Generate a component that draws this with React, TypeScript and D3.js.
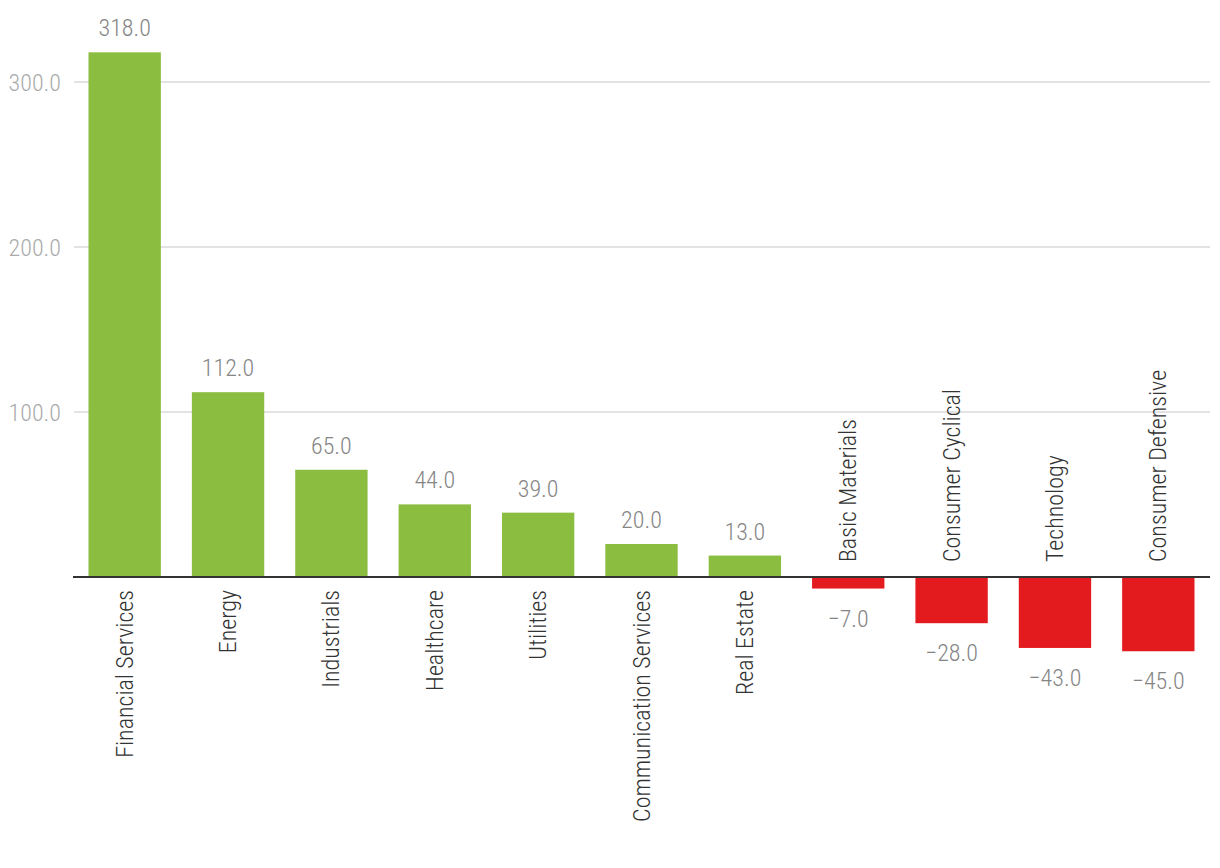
import React from "react";
import * as d3 from "d3";

const categories = [
  "Financial Services",
  "Energy",
  "Industrials",
  "Healthcare",
  "Utilities",
  "Communication Services",
  "Real Estate",
  "Basic Materials",
  "Consumer Cyclical",
  "Technology",
  "Consumer Defensive",
];
const values = [318, 112, 65, 44, 39, 20, 13, -7, -28, -43, -45];
const yTicks = [100, 200, 300];

const W = 1220;
const H = 868;
const FONT = "'Roboto Condensed', 'Liberation Sans Narrow', 'DejaVu Sans Condensed', 'Roboto', sans-serif";

export default function App() {
  const x = d3.scaleBand<string>().domain(categories).range([73, 1210]).paddingInner(0.3).paddingOuter(0.15);
  const y = d3.scaleLinear().domain([0, 300]).range([577, 82]);
  const fmt = d3.format(".1f");
  const minus = (v: number) => fmt(v).replace("-", "\u2212");

  return (
    <svg width={W} height={H} style={{ position: "absolute", left: 0, top: 0, background: "#fff" }} fontFamily={FONT}>
      {yTicks.map((t) => (
        <g key={t}>
          <line x1={74} x2={1210} y1={y(t)} y2={y(t)} stroke="#e3e3e3" strokeWidth={2} />
          <text x={61} y={y(t)} dy="0.36em" textAnchor="end" fontSize={24} fill="#aaaaaa" fontWeight={300}>
            {fmt(t)}
          </text>
        </g>
      ))}
      {categories.map((c, i) => {
        const v = values[i];
        const x0 = x(c)!;
        const bw = x.bandwidth();
        const top = Math.min(y(v), y(0));
        const h = Math.abs(y(v) - y(0));
        const cx = x0 + bw / 2;
        return (
          <g key={c}>
            <rect x={x0} y={top} width={bw} height={h} fill={v >= 0 ? "#8bbd40" : "#e31b1f"} />
            <text
              x={cx}
              y={v >= 0 ? y(v) - 16 : y(v) + 38}
              textAnchor="middle"
              fontSize={24}
              fill="#858585"
              fontWeight={300}
            >
              {minus(v)}
            </text>
            <text
              transform={`translate(${cx + 8},${v >= 0 ? y(0) + 13 : y(0) - 15}) rotate(-90)`}
              textAnchor={v >= 0 ? "end" : "start"}
              fontSize={24}
              fill="#333333"
              fontWeight={300}
            >
              {c}
            </text>
          </g>
        );
      })}
      <line x1={73} x2={1210} y1={y(0)} y2={y(0)} stroke="#333" strokeWidth={2} />
    </svg>
  );
}
